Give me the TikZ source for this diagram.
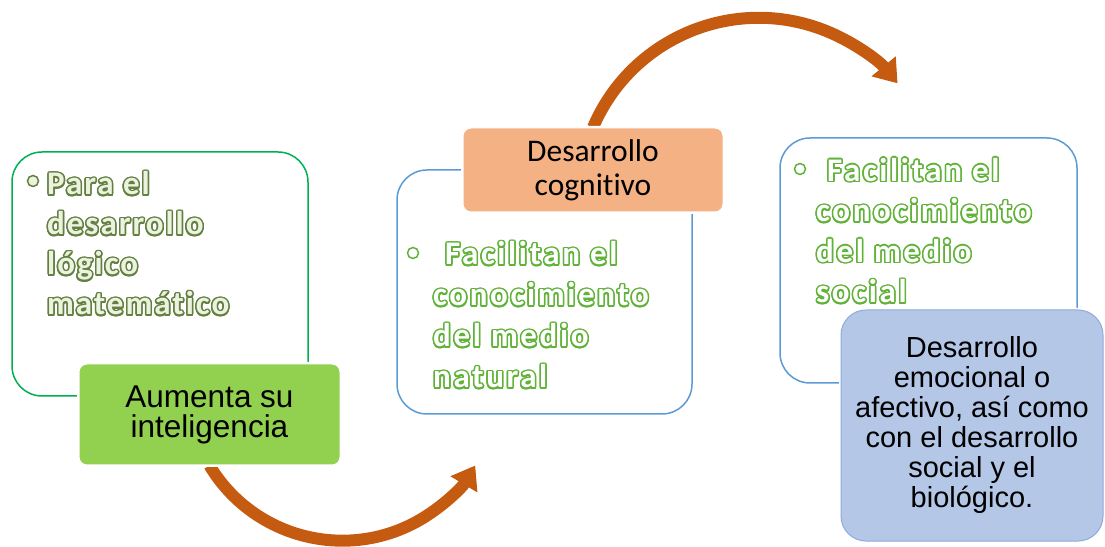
\documentclass[tikz,border=0pt]{standalone}
\usepackage{fontspec}
\setmainfont{Liberation Sans}
\newfontfamily\cali[Ligatures=NoCommon]{Carlito}
\newfontfamily\glowa[LetterSpace=6,Ligatures=NoCommon]{Carlito}
\newfontfamily\glowb[LetterSpace=8,Ligatures=NoCommon]{Carlito}
\usepackage{contour}
\contourlength{1.5pt}
\usetikzlibrary{arrows.meta,backgrounds}

\definecolor{frgreen}{RGB}{0,176,80}
\definecolor{frblue}{RGB}{91,155,213}
\definecolor{limefill}{RGB}{146,208,80}
\definecolor{peachfill}{RGB}{244,177,131}
\definecolor{lavfill}{RGB}{180,199,231}
\definecolor{lavline}{RGB}{143,170,220}
\definecolor{rust}{RGB}{197,90,17}
\definecolor{glowolive}{RGB}{100,128,64}
\definecolor{glowpale}{RGB}{236,242,224}
\definecolor{glowleaf}{RGB}{96,178,56}

\newcommand{\gla}[1]{\contour{glowolive}{#1}}
\newcommand{\glb}[1]{\contour{glowleaf}{#1}}

\tikzstyle{linebox}=[draw, line width=1.5pt, rounded corners=30pt, inner sep=0]
\tikzstyle{fillbox}=[preaction={draw=white, line width=4pt}, draw=white, line width=1pt,
                     rounded corners=8pt, align=center, inner sep=0]
\tikzstyle{glowtext}=[anchor=base west, align=left, inner sep=0]
\tikzstyle{ring}=[circle, line width=1.5pt, minimum size=11pt, inner sep=0]
\tikzstyle{bigarrow}=[draw=rust, line width=12pt, -{Triangle[length=22pt, width=30pt]}]

\begin{document}
\begin{tikzpicture}[x=1pt, y=1pt]
    \useasboundingbox (0,0) rectangle (1105,546);

    % left
    \node[linebox, draw=frgreen, minimum width=296pt, minimum height=244pt] (lbox) at (160,272) {};
    \node[ring, draw=glowolive, fill=glowpale] (lbul) at (33,365) {};
    \node[glowtext, text=glowpale, font=\glowa\bfseries\fontsize{33}{40}\selectfont] (ltxt) at (47,231)
      {\gla{Para el}\\\gla{desarrollo}\\\gla{lógico}\\\gla{matemático}};
    \node[fillbox, fill=limefill, minimum width=261pt, minimum height=101pt,
          font=\fontsize{31.5}{30}\selectfont] (aum) at (209.5,131.5) {Aumenta su\\inteligencia};

    % middle
    \node[linebox, draw=frblue, minimum width=295pt, minimum height=244pt] (mbox) at (544.5,254) {};
    \node[ring, draw=glowleaf, fill=white] (mbul) at (413,293) {};
    \node[glowtext, text=white, font=\glowb\bfseries\fontsize{33}{41}\selectfont] (mtxt) at (433,158)
      {\hspace{12pt}\glb{Facilitan el}\\\glb{conocimiento}\\\glb{del medio}\\\glb{natural}};
    \node[fillbox, fill=peachfill, minimum width=260pt, minimum height=84pt,
          font=\cali\fontsize{31.5}{34}\selectfont] (cog) at (593,376) {Desarrollo\\cognitivo};

    % right
    \node[linebox, draw=frblue, minimum width=297pt, minimum height=245pt] (rbox) at (928.5,285.5) {};
    \node[ring, draw=glowleaf, fill=white] (rbul) at (800,377) {};
    \node[glowtext, text=white, font=\glowb\bfseries\fontsize{33}{40.5}\selectfont] (rtxt) at (816,243)
      {\hspace{11pt}\glb{Facilitan el}\\\glb{conocimiento}\\\glb{del medio}\\\glb{social}};
    \node[fillbox, fill=lavfill, draw=lavline, rounded corners=25pt, minimum width=262pt, minimum height=231pt,
          font=\fontsize{29}{30}\selectfont] (emo) at (972,120.5)
      {Desarrollo\\emocional o\\afectivo, así como\\con el desarrollo\\social y el\\biológico.};

    % arrows
    \begin{scope}[on background layer]
      \draw[bigarrow] (aum.south) arc[start angle=211, end angle=329, radius=155pt];
      \draw[bigarrow] (cog.north) arc[start angle=157, end angle=39.5, radius=180pt];
    \end{scope}
\end{tikzpicture}
\end{document}
